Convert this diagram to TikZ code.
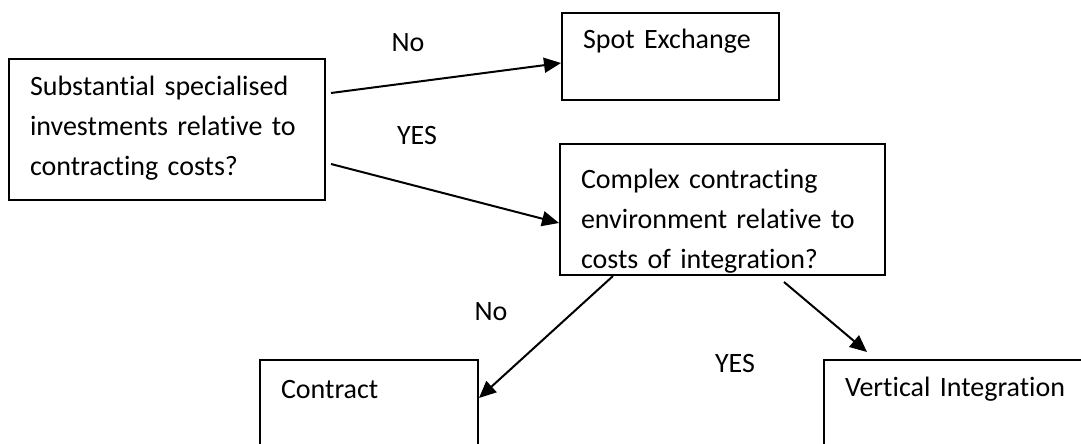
\documentclass[tikz,border=0pt]{standalone}
\usepackage{fontspec}
\setmainfont{Carlito}[Ligatures=NoCommon]
\usetikzlibrary{arrows.meta}

\begin{document}
\begin{tikzpicture}[
    x=0.5pt,y=-0.5pt,
    font=\fontsize{14}{20}\selectfont,
    box/.style={draw,line width=1pt,anchor=north west,align=left,inner ysep=0pt,inner xsep=10.5pt},
    lbl/.style={anchor=base,inner sep=0pt},
    link/.style={line width=1pt,-{Triangle[length=8.5pt,width=7.5pt]}}
  ]
    \useasboundingbox (0,0) rectangle (1081,444);
    \clip (0,0) rectangle (1081,444);

    % decision boxes
    \node[box,text width=137pt,text height=18.5pt,text depth=52pt] (invest) at (8,58)
      {Substantial specialised\\investments relative to\\contracting costs?};
    \node[box,text width=87.5pt,text height=18pt,text depth=25.5pt] (spot) at (561,12) {Spot Exchange};
    \node[box,text width=141.5pt,text height=22pt,text depth=43.5pt] (complex) at (559,143)
      {Complex contracting\\environment relative to\\costs of integration?};
    \node[box,text width=88pt,text height=19pt,text depth=40pt] (contract) at (259,359) {Contract};
    \node[box,text width=124pt,text height=18pt,text depth=40pt] (vertical) at (823,359) {Vertical Integration};

    % branches
    \draw[link] ([xshift=2.5pt,yshift=18.25pt]invest.east) -- ([yshift=-3.25pt]spot.west);
    \draw[link] ([xshift=2.5pt,yshift=-17.25pt]invest.east) -- ([yshift=-6.75pt]complex.west);
    \draw[link] ([xshift=27pt]complex.south west) -- ([yshift=-19.5pt]contract.north east);
    \draw[link] ([xshift=112.5pt,yshift=-3pt]complex.south west) -- ([xshift=22pt,yshift=3.5pt]vertical.north west);

    \node[lbl] (no1) at (408,52) {No};
    \node[lbl] (yes1) at (417,144) {YES};
    \node[lbl] (no2) at (491,320) {No};
    \node[lbl] (yes2) at (735,372) {YES};
  \end{tikzpicture}
\end{document}
